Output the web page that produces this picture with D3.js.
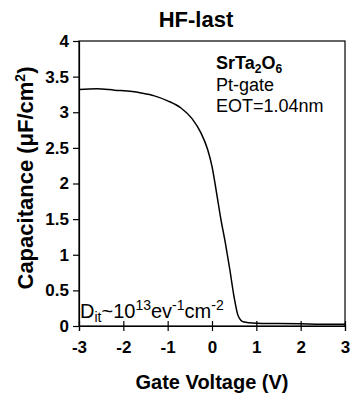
<!DOCTYPE html>
<html>
<head>
<meta charset="utf-8">
<script src="https://cdn.jsdelivr.net/npm/d3@7"></script>
<style>
  body { margin: 0; background: #fff; }
  svg { font-family: "Liberation Sans", Arial, sans-serif; }
</style>
</head>
<body>
<svg id="chart" width="351" height="399"></svg>
<script>
// gate voltage (V) and capacitance (uF/cm2)
const voltage = [-3, -2.6, -2.2, -1.8, -1.6, -1.3, -1.0, -0.7, -0.45, -0.25, -0.1, 0,
                 0.1, 0.2, 0.3, 0.4, 0.5, 0.58, 0.65, 0.72, 0.85, 1.0, 1.5, 2, 2.5, 3];
const capacitance = [3.32, 3.33, 3.31, 3.29, 3.27, 3.23, 3.16, 3.06, 2.91, 2.71, 2.48, 2.24,
                     1.88, 1.5, 1.17, 0.8, 0.4, 0.16, 0.08, 0.055, 0.045, 0.04, 0.035, 0.03, 0.025, 0.025];
const xTicks = [-3, -2, -1, 0, 1, 2, 3];
const yTicks = [0, 0.5, 1, 1.5, 2, 2.5, 3, 3.5, 4];

const svg = d3.select('#chart');
const plot = { left: 79, right: 345, top: 41, bottom: 326 };

const x = d3.scaleLinear().domain([-3, 3]).range([plot.left, plot.right]);
const y = d3.scaleLinear().domain([0, 4]).range([plot.bottom, plot.top]);

// plain hyphen for negatives, like the original
let fmt = (d) => { return String(d); };

// frame
svg.append('rect')
    .attr('x', plot.left).attr('y', plot.top)
    .attr('width', plot.right - plot.left)
    .attr('height', plot.bottom - plot.top)
    .attr('fill', 'none')
    .attr('stroke', '#000')
    .attr('stroke-width', 1.2);

// y axis
let yAxis = svg.append('g')
    .attr('transform', 'translate(' + plot.left + ',0)')
    .call(d3.axisLeft(y).tickValues(yTicks).tickSize(6).tickPadding(4).tickFormat(fmt));
yAxis.select('.domain').attr('stroke-width', 1.2);
yAxis.selectAll('.tick line').attr('stroke-width', 1.2);
yAxis.selectAll('text')
    .attr('font-size', 17).attr('font-weight', 'bold')
    .attr('font-family', '"Liberation Sans", Arial, sans-serif').attr('fill', '#000');

// x axis, ticks cross the line
let xAxis = svg.append('g')
    .attr('transform', 'translate(0,' + plot.bottom + ')')
    .call(d3.axisBottom(x).tickValues(xTicks).tickSize(5).tickPadding(10).tickFormat(fmt));
xAxis.select('.domain').attr('stroke-width', 1.2);
xAxis.selectAll('.tick line').attr('y1', -5).attr('y2', 5).attr('stroke-width', 1.2);
xAxis.selectAll('text')
    .attr('font-size', 17).attr('font-weight', 'bold')
    .attr('font-family', '"Liberation Sans", Arial, sans-serif').attr('fill', '#000');

// curve
let points = voltage.map((v, i) => ({ v: v, c: capacitance[i] }));
let line = d3.line()
    .x((d) => { return x(d.v); })
    .y((d) => { return y(d.c); })
    .curve(d3.curveMonotoneX);

svg.append('path')
    .datum(points)
    .attr('d', line)
    .attr('fill', 'none')
    .attr('stroke', '#000')
    .attr('stroke-width', 1.5);

// titles
svg.append('text')
    .attr('x', 196).attr('y', 27)
    .attr('text-anchor', 'middle')
    .attr('font-size', 22).attr('font-weight', 'bold')
    .text('HF-last');

svg.append('text')
    .attr('x', (plot.left + plot.right) / 2).attr('y', 389)
    .attr('text-anchor', 'middle')
    .attr('font-size', 20).attr('font-weight', 'bold')
    .text('Gate Voltage (V)');

let yTitle = svg.append('text')
    .attr('transform', 'translate(33,178) rotate(-90)')
    .attr('text-anchor', 'middle')
    .attr('font-size', 22).attr('font-weight', 'bold');
yTitle.append('tspan').text('Capacitance (\u03bcF/cm');
yTitle.append('tspan').attr('font-size', 14).attr('dy', -8).text('2');
yTitle.append('tspan').attr('dy', 8).text(')');

// annotations
let sr = svg.append('text')
    .attr('x', 216).attr('y', 69)
    .attr('font-size', 18).attr('font-weight', 'bold');
sr.append('tspan').text('SrTa');
sr.append('tspan').attr('font-size', 12).attr('dy', 4).text('2');
sr.append('tspan').attr('dy', -4).text('O');
sr.append('tspan').attr('font-size', 12).attr('dy', 4).text('6');

svg.append('text')
    .attr('x', 216).attr('y', 91)
    .attr('font-size', 18)
    .text('Pt-gate');

svg.append('text')
    .attr('x', 216).attr('y', 112)
    .attr('font-size', 18)
    .text('EOT=1.04nm');

let dit = svg.append('text')
    .attr('x', 80).attr('y', 318)
    .attr('font-size', 20);
dit.append('tspan').text('D');
dit.append('tspan').attr('font-size', 14).attr('dy', 4).text('it');
dit.append('tspan').attr('dy', -4).text('~10');
dit.append('tspan').attr('font-size', 14).attr('dy', -8).text('13');
dit.append('tspan').attr('dy', 8).text('ev');
dit.append('tspan').attr('font-size', 14).attr('dy', -8).text('-1');
dit.append('tspan').attr('dy', 8).text('cm');
dit.append('tspan').attr('font-size', 14).attr('dy', -8).text('-2');
</script>
</body>
</html>
